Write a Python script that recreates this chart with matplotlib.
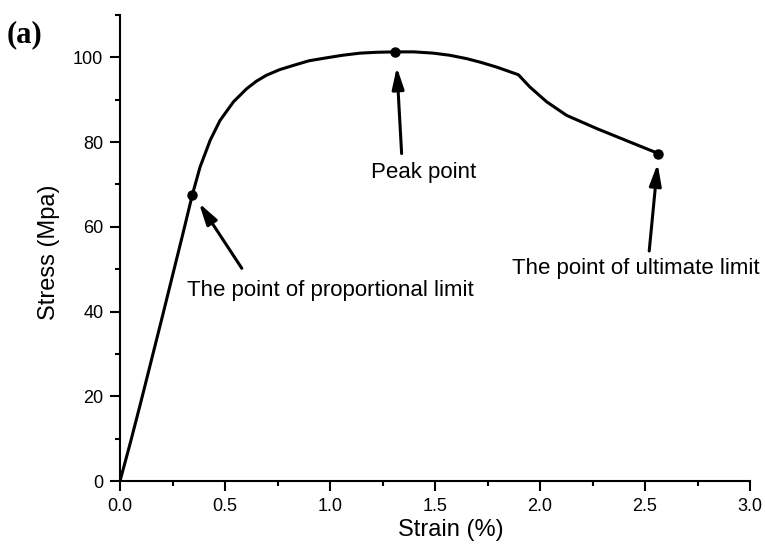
import matplotlib.pyplot as plt
from matplotlib.ticker import MultipleLocator

# stress-strain curve
strain = [0, 0.05, 0.1, 0.2, 0.3, 0.344, 0.381, 0.429, 0.476, 0.54, 0.603, 0.65, 0.698,
          0.76, 0.825, 0.9, 0.984, 1.06, 1.143, 1.22, 1.31, 1.4, 1.492, 1.57, 1.651,
          1.72, 1.794, 1.897, 1.952, 2.032, 2.127, 2.27, 2.429, 2.564]
stress = [0, 9.2, 18.8, 38.5, 58.5, 67.5, 74.1, 80.4, 85.1, 89.5, 92.6, 94.4, 95.8,
          97.1, 98.1, 99.2, 99.9, 100.5, 101.0, 101.2, 101.3, 101.3, 101.0, 100.5, 99.7,
          98.8, 97.7, 95.9, 93.0, 89.5, 86.3, 83.2, 80.0, 77.3]

# marked points: (strain, stress)
key_x = [0.344, 1.31, 2.564]
key_y = [67.5, 101.3, 77.3]
key_labels = ["The point of proportional limit", "Peak point", "The point of ultimate limit"]
label_pos = [(1.0, 45.0), (1.444, 72.9), (2.455, 50.2)]
arrow_tail = [(0.58, 50.2), (1.341, 77.3), (2.52, 54.3)]
arrow_head = [(0.376, 65.6), (1.318, 97.7), (2.56, 74.9)]

plt.rcParams['font.family'] = ['Liberation Sans', 'DejaVu Sans']

fig = plt.figure(figsize=(7.65, 5.44), dpi=100, facecolor='white')
ax = fig.add_axes([0.1569, 0.1158, 0.8235, 0.8566])

ax.plot(strain, stress, color='black', lw=2.2, solid_joinstyle='round')
ax.plot(key_x, key_y, 'o', color='black', ms=6.5)

for lab, pos, tail, head in zip(key_labels, label_pos, arrow_tail, arrow_head):
    ax.text(pos[0], pos[1], lab, ha='center', va='center', fontsize=16)
    ax.annotate('', xy=head, xytext=tail,
                arrowprops=dict(arrowstyle='-|>,head_length=0.65,head_width=0.18',
                                mutation_scale=20, lw=2.2, color='black',
                                shrinkA=0, shrinkB=0))

ax.set_xlim(0, 3.0)
ax.set_ylim(0, 110)
ax.xaxis.set_minor_locator(MultipleLocator(0.25))
ax.yaxis.set_minor_locator(MultipleLocator(10))
ax.set_xticks([0, 0.5, 1.0, 1.5, 2.0, 2.5, 3.0])
ax.set_yticks([0, 20, 40, 60, 80, 100])

for s in ['top', 'right']:
    ax.spines[s].set_visible(False)
for s in ['left', 'bottom']:
    ax.spines[s].set_linewidth(1.5)

ax.tick_params(which='major', direction='out', length=7, width=1.5, labelsize=13, pad=5)
ax.tick_params(which='minor', direction='out', length=3.5, width=1.5)

ax.set_xlabel('Strain (%)', fontsize=17)
ax.set_ylabel('Stress (Mpa)', fontsize=17)
ax.xaxis.set_label_coords(0.525, -0.0805)
ax.yaxis.set_label_coords(-0.095, 0.49)

fig.text(0.009, 0.936, '(a)', fontsize=22, fontweight='bold',
         family='Liberation Serif', va='center', ha='left')

fig.savefig('out.png', dpi=100)
